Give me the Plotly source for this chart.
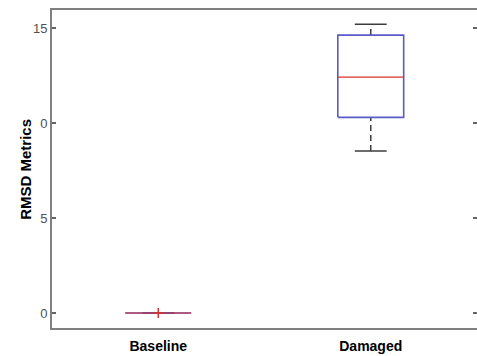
import plotly.graph_objects as go

# data
categories = ["Baseline", "Damaged"]
positions = [1, 2]
q1 = [0.0, 10.3]
median = [0.0, 12.42]
q3 = [0.0, 14.63]
lower = [0.0, 8.53]
upper = [0.0, 15.2]
outlier_pos = [1]
outlier_val = [0.0]
ytick_vals = [0, 5, 10, 15]
ytick_text = ["0", "5", "0", "15"]
y_title = "RMSD Metrics"

BOX_HALF = 0.155
CAP_HALF = 0.075
BLUE = "rgb(90,90,200)"
RED = "rgb(215,50,50)"
DARK = "rgb(60,60,60)"

fig = go.Figure()

for i, p in enumerate(positions):
    # whiskers (dashed)
    fig.add_trace(go.Scatter(x=[p, p], y=[q3[i], upper[i]], mode="lines",
                             line=dict(color=DARK, width=1.5, dash="6px,4px"),
                             showlegend=False, hoverinfo="skip"))
    fig.add_trace(go.Scatter(x=[p, p], y=[lower[i], q1[i]], mode="lines",
                             line=dict(color=DARK, width=1.5, dash="6px,4px"),
                             showlegend=False, hoverinfo="skip"))
    # caps
    for v in (upper[i], lower[i]):
        fig.add_trace(go.Scatter(x=[p - CAP_HALF, p + CAP_HALF], y=[v, v], mode="lines",
                                 line=dict(color=DARK, width=1.5),
                                 showlegend=False, hoverinfo="skip"))
    # box
    fig.add_trace(go.Scatter(x=[p - BOX_HALF, p + BOX_HALF, p + BOX_HALF, p - BOX_HALF, p - BOX_HALF],
                             y=[q1[i], q1[i], q3[i], q3[i], q1[i]], mode="lines",
                             line=dict(color=BLUE, width=1.6),
                             showlegend=False, hoverinfo="skip"))
    # median
    fig.add_trace(go.Scatter(x=[p - BOX_HALF, p + BOX_HALF], y=[median[i], median[i]], mode="lines",
                             line=dict(color=RED, width=1.2),
                             showlegend=False, hoverinfo="skip"))

# outliers
fig.add_trace(go.Scatter(x=outlier_pos, y=outlier_val, mode="markers",
                         marker=dict(symbol="cross-thin", size=7, line=dict(color=RED, width=1.5)),
                         showlegend=False, hoverinfo="skip", yaxis="y2"))

yrange = [-0.79, 15.95]
fig.update_layout(
    width=477, height=356,
    margin=dict(l=52, r=0, t=10, b=28),
    paper_bgcolor="white", plot_bgcolor="white",
    font=dict(family="Liberation Sans, Arial, sans-serif"),
    xaxis=dict(range=[0.5, 2.5], tickvals=positions,
               ticktext=["<b>%s</b>" % c for c in categories],
               showgrid=False, zeroline=False, showline=True, mirror=True,
               linecolor="rgb(128,128,128)", linewidth=2, ticks="",
               tickfont=dict(size=14, color="black"),
               ticklabelstandoff=4),
    yaxis=dict(range=yrange, tickvals=ytick_vals, ticktext=ytick_text,
               showgrid=False, zeroline=False, showline=True, mirror=False,
               linecolor="rgb(128,128,128)", linewidth=2,
               ticks="inside", ticklen=4, tickwidth=1.5, tickcolor="rgb(100,100,100)",
               tickfont=dict(size=13, color="rgb(80,80,80)")),
    yaxis2=dict(range=yrange, tickvals=ytick_vals, overlaying="y", side="right",
                showgrid=False, zeroline=False, showline=False, showticklabels=False,
                ticks="inside", ticklen=4, tickwidth=1.5, tickcolor="rgb(100,100,100)"),
    annotations=[dict(text="<b>%s</b>" % y_title, textangle=-90,
                      xref="paper", yref="paper", x=-0.064, y=0.5,
                      xanchor="center", yanchor="middle", showarrow=False,
                      font=dict(size=15, color="black"))],
)

fig.write_html("out.html")
